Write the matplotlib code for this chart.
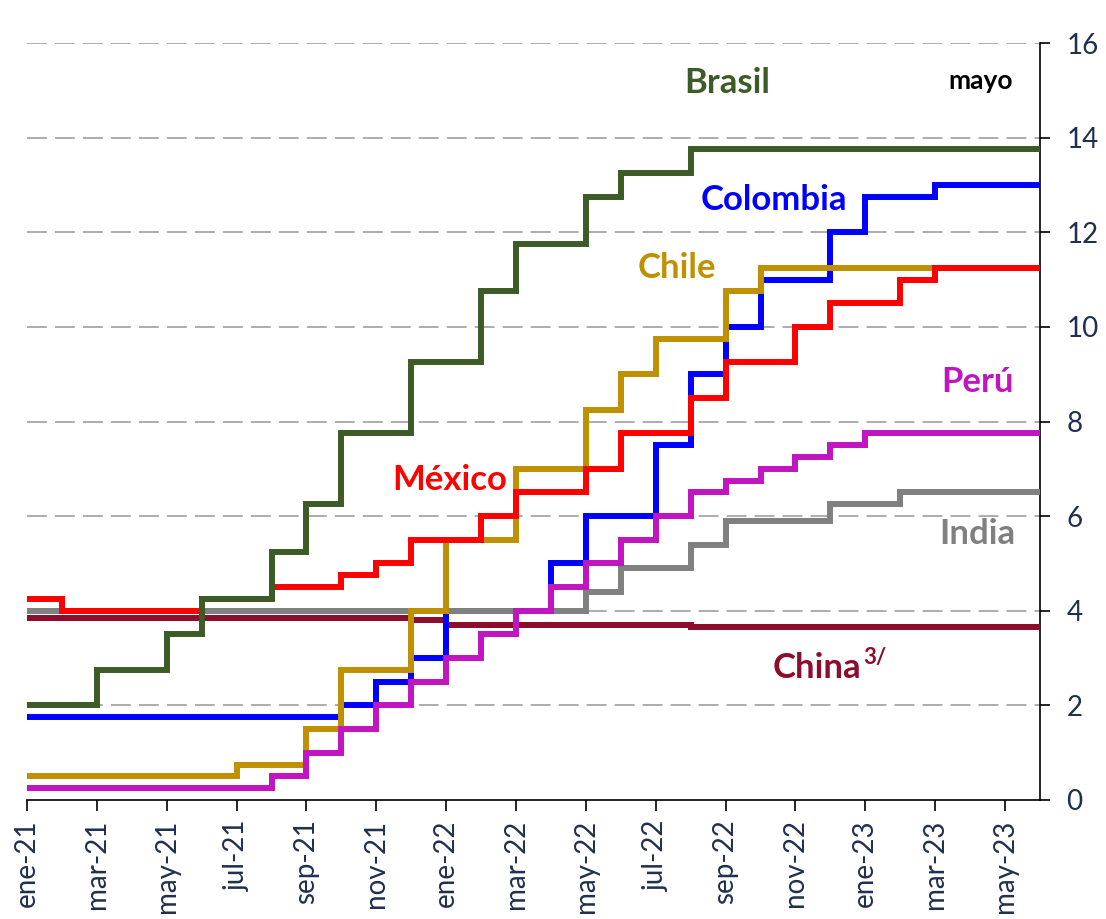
import numpy as np
import matplotlib
matplotlib.use('Agg')
import matplotlib.pyplot as plt

# ── Data: monthly policy rates, ene-21 .. may-23 ───────────────────────────
meses = ['ene', 'feb', 'mar', 'abr', 'may', 'jun', 'jul', 'ago', 'sep', 'oct', 'nov', 'dic']
month_labels = [f"{meses[m % 12]}-{21 + m // 12}" for m in range(29)]

brasil   = [2.0, 2.0, 2.75, 2.75, 3.5, 4.25, 4.25, 5.25, 6.25, 7.75, 7.75, 9.25,
            9.25, 10.75, 11.75, 11.75, 12.75, 13.25, 13.25, 13.75, 13.75, 13.75, 13.75, 13.75,
            13.75, 13.75, 13.75, 13.75, 13.75]
colombia = [1.75, 1.75, 1.75, 1.75, 1.75, 1.75, 1.75, 1.75, 1.75, 2.0, 2.5, 3.0,
            4.0, 4.0, 4.0, 5.0, 6.0, 6.0, 7.5, 9.0, 10.0, 11.0, 11.0, 12.0,
            12.75, 12.75, 13.0, 13.0, 13.0]
chile    = [0.5, 0.5, 0.5, 0.5, 0.5, 0.5, 0.75, 0.75, 1.5, 2.75, 2.75, 4.0,
            5.5, 5.5, 7.0, 7.0, 8.25, 9.0, 9.75, 9.75, 10.75, 11.25, 11.25, 11.25,
            11.25, 11.25, 11.25, 11.25, 11.25]
mexico   = [4.25, 4.0, 4.0, 4.0, 4.0, 4.25, 4.25, 4.5, 4.5, 4.75, 5.0, 5.5,
            5.5, 6.0, 6.5, 6.5, 7.0, 7.75, 7.75, 8.5, 9.25, 9.25, 10.0, 10.5,
            10.5, 11.0, 11.25, 11.25, 11.25]
peru     = [0.25, 0.25, 0.25, 0.25, 0.25, 0.25, 0.25, 0.5, 1.0, 1.5, 2.0, 2.5,
            3.0, 3.5, 4.0, 4.5, 5.0, 5.5, 6.0, 6.5, 6.75, 7.0, 7.25, 7.5,
            7.75, 7.75, 7.75, 7.75, 7.75]
india    = [4.0, 4.0, 4.0, 4.0, 4.0, 4.0, 4.0, 4.0, 4.0, 4.0, 4.0, 4.0,
            4.0, 4.0, 4.0, 4.0, 4.4, 4.9, 4.9, 5.4, 5.9, 5.9, 5.9, 6.25,
            6.25, 6.5, 6.5, 6.5, 6.5]
china    = [3.85, 3.85, 3.85, 3.85, 3.85, 3.85, 3.85, 3.85, 3.85, 3.85, 3.85, 3.8,
            3.7, 3.7, 3.7, 3.7, 3.7, 3.7, 3.7, 3.65, 3.65, 3.65, 3.65, 3.65,
            3.65, 3.65, 3.65, 3.65, 3.65]

# ── Style ───────────────────────────────────────────────────────────────────
plt.rcParams['font.family'] = ['Lato', 'DejaVu Sans']
tick_color = '#1F2F4F'

fig = plt.figure(figsize=(11.06, 9.19), dpi=100)
ax = fig.add_axes([27 / 1106, 1 - 800 / 919, (1040 - 27) / 1106, (800 - 43) / 919])

edges = np.arange(len(month_labels) + 1)
lw = 4.3
series = [
    (china,    '#8E0C2C'),
    (colombia, '#0000FF'),
    (india,    '#808080'),
    (chile,    '#BF9000'),
    (peru,     '#C015C0'),
    (mexico,   '#FF0000'),
    (brasil,   '#3D5B27'),
]
for vals, col in series:
    ax.stairs(vals, edges, baseline=None, color=col, linewidth=lw, zorder=3)

# ── Axes ────────────────────────────────────────────────────────────────────
ax.set_xlim(0, len(month_labels))
ax.set_ylim(0, 16)
ax.set_yticks(np.arange(0, 17, 2))
ax.yaxis.tick_right()
ax.set_xticks(edges[:-1][::2])
ax.set_xticklabels(month_labels[::2], rotation=90)

for s in ['top', 'left']:
    ax.spines[s].set_visible(False)
for s in ['right', 'bottom']:
    ax.spines[s].set_linewidth(1.2)
    ax.spines[s].set_color('black')

ax.tick_params(axis='y', direction='out', length=7, width=1.2, pad=12,
               labelsize=20, labelcolor=tick_color)
ax.tick_params(axis='x', direction='out', length=8, width=1.2, pad=6,
               labelsize=20, labelcolor=tick_color)

for y in range(2, 17, 2):
    ax.axhline(y, color='#A6A6A6', linewidth=1.3, dashes=(11, 4.5), zorder=1)

# ── Labels ──────────────────────────────────────────────────────────────────
lab = dict(fontsize=25, fontweight='bold', va='center', ha='center')
ax.text(20.05, 15.15, 'Brasil', color='#3D5B27', **lab)
ax.text(27.3, 15.2, 'mayo', color='black', ha='center', fontsize=19,
        fontweight='bold', va='center')
ax.text(21.37, 12.68, 'Colombia', color='#0000FF', **lab)
ax.text(18.6, 11.25, 'Chile', color='#BF9000', **lab)
ax.text(12.1, 6.77, 'México', color='#FF0000', **lab)
ax.text(27.2, 8.84, 'Perú', color='#C015C0', **lab)
ax.text(27.2, 5.62, 'India', color='#808080', **lab)
ax.text(22.6, 2.8, 'China', color='#8E0C2C', **lab)
ax.text(23.95, 3.02, '3/', color='#8E0C2C', ha='left', fontsize=16,
        fontweight='bold', va='center')

fig.savefig('out.png', dpi=100, facecolor='white')
